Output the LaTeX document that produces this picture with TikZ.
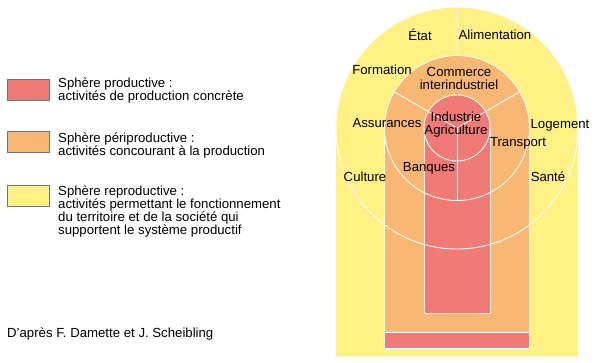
\documentclass[tikz,border=0pt]{standalone}
\usepackage{fontspec}
\setmainfont{Liberation Sans}
\definecolor{prodred}{RGB}{240,122,118}
\definecolor{periorange}{RGB}{248,184,116}
\definecolor{reproyellow}{RGB}{255,241,131}
\definecolor{boxgray}{RGB}{115,115,115}
\def\rin{33}
\def\rmid{72.5}
\def\rout{121}

\begin{document}
\begin{tikzpicture}[x=1pt,y=1pt,
    every node/.style={font=\fontsize{13.2}{13}\selectfont, inner sep=0pt},
    sep/.style={white, line width=0.9pt},
    legbox/.style={draw=boxgray, line width=0.8pt, minimum width=42pt, minimum height=21pt, anchor=south west},
    legtext/.style={anchor=base west, align=left}]
        \useasboundingbox (0,0) rectangle (602,363);
        \coordinate (c) at (457,235);
        % reproductive sphere
        \fill[reproyellow] (c) circle (\rout);
        \fill[reproyellow] (336,7) rectangle (578,235);
        % periproductive sphere
        \fill[periorange] (c) circle (\rmid);
        \fill[periorange] (384.5,31) rectangle (529.5,235);
        \draw[sep, line width=0.5pt] (384.5,235) -- (384.5,31) -- (529.5,31) -- (529.5,235);
        % bottom bar
        \filldraw[prodred, draw=white, line width=0.6pt] (384.5,15) rectangle (529.5,31);
        % productive sphere
        \fill[prodred] (c) circle (\rin);
        \fill[prodred] (424,50) rectangle (490,235);
        \draw[sep] (424,235) -- (424,50) -- (490,50) -- (490,235);
        % rings
        \draw[sep] (c) circle (\rin);
        \draw[sep] (c) circle (\rmid);
        \draw[sep] (c) circle (\rout);
        % spokes
        \foreach \a in {30,150,270}
            \draw[sep] (c) -- ++(\a:\rmid);
        \draw[sep] (c) ++(0,\rmid) -- ++(0,48.5);
        % labels of the spheres
        \node (etat) at (420,328) {État};
        \node (alim) at (495,328) {Alimentation};
        \node (form) at (382,293) {Formation};
        \node[align=center] (comm) at (459,285) {Commerce\\interindustriel};
        \node (assu) at (387,240) {Assurances};
        \node[align=center] (indu) at (456,238) {Industrie\\Agriculture};
        \node (loge) at (560,238) {Logement};
        \node (tran) at (518,220) {Transport};
        \node (banq) at (429,195) {Banques};
        \node (cult) at (365,186) {Culture};
        \node (sant) at (548,186) {Santé};
        % legend
        \node[legbox, fill=prodred] (boxprod) at (7,262) {};
        \node[legtext] (txtprod) at (58,262) {Sphère productive :\\activités de production concrète};
        \node[legbox, fill=periorange] (boxperi) at (7,210) {};
        \node[legtext] (txtperi) at (58,207) {Sphère périproductive :\\activités concourant à la production};
        \node[legbox, fill=reproyellow] (boxrepro) at (7,156) {};
        \node[legtext] (txtrepro) at (58,128.5) {Sphère reproductive :\\activités permettant le fonctionnement\\du territoire et de la société qui\\supportent le système productif};
        % source
        \node[anchor=base west] (source) at (7,25) {D’après F. Damette et J. Scheibling};
    \end{tikzpicture}
\end{document}
